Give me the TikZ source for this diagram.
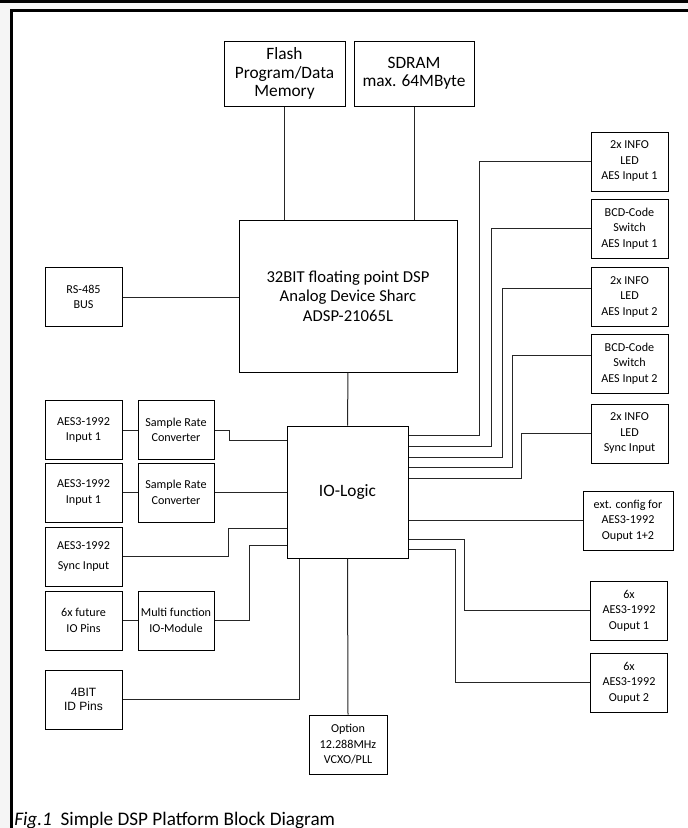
\documentclass[tikz,border=0pt]{standalone}
\usepackage{fontspec}
\setmainfont{Carlito}
\newfontfamily\arialfont{Liberation Sans}

\begin{document}
\begin{tikzpicture}[x=0.75pt,y=-0.75pt,
    blk/.style={draw,line width=0.75pt,inner sep=0pt,align=center,
      minimum width=57.75pt,minimum height=44.25pt,
      font=\fontsize{9.1}{11.6}\selectfont},
    large/.style={blk,font=\fontsize{13}{13.9}\selectfont},
    wire/.style={line width=0.75pt,black!85}]
      % page and frame
      \useasboundingbox (0,0) rectangle (688,828);
      \fill[black!4] (0,0) rectangle (688,828);
      \fill[black] (0,0) rectangle (688,2.5);
      \fill[white] (10,9) rectangle (688,828);
      \draw[line width=2.25pt] (11.5,828) -- (11.5,10.5) -- (688,10.5);

      \node[large,minimum width=90.75pt,minimum height=48.75pt] (flash) at (284.5,73.5) {Flash\\Program/Data\\Memory};
      \node[large,minimum width=90pt,minimum height=48.75pt] (sdram) at (414,73.5) {SDRAM\\max. 64MByte};
      \node[large,minimum width=163.5pt,minimum height=114pt,
        font=\fontsize{12.5}{14.6}\selectfont] (dsp) at (348,296) {32BIT floating point DSP\\Analog Device Sharc\\ADSP-21065L};
      \node[blk] (rs) at (83.5,297) {RS-485\\BUS};
      \node[large,minimum width=90.75pt,minimum height=99pt] (io) at (347.5,492) {IO-Logic};

      \node[blk] (aes1) at (83.5,430) {AES3-1992\\Input 1};
      \node[blk,minimum width=57pt] (src1) at (176,430) {Sample Rate\\Converter};
      \node[blk] (aes2) at (83.5,492.5) {AES3-1992\\Input 1};
      \node[blk,minimum width=57pt] (src2) at (176,492.5) {Sample Rate\\Converter};
      \node[blk] (sync) at (83.5,556.5) {AES3-1992\\[3.5pt]Sync Input};
      \node[blk] (fut) at (83.5,620.5) {6x future\\IO Pins};
      \node[blk,minimum width=57pt] (multi) at (176,620.5) {Multi function\\IO-Module};
      \node[blk,font=\arialfont\fontsize{9}{10.75}\selectfont] (idpins) at (83.5,699.5) {4BIT\\ID Pins};
      \node[blk,minimum width=58.5pt] (vcxo) at (348,744.5) {Option\\12.288MHz\\VCXO/PLL};

      \node[blk] (led1) at (629.5,161.5) {2x INFO\\LED\\AES Input 1};
      \node[blk] (bcd1) at (629.5,228.5) {BCD-Code\\Switch\\AES Input 1};
      \node[blk] (led2) at (629.5,297) {2x INFO\\LED\\AES Input 2};
      \node[blk] (bcd2) at (629.5,363.5) {BCD-Code\\Switch\\AES Input 2};
      \node[blk] (ledsync) at (629.5,433.5) {2x INFO\\LED\\Sync Input};
      \node[blk,minimum width=67.5pt] (extcfg) at (628,520.5) {ext. config for\\AES3-1992\\Ouput 1+2};
      \node[blk] (out1) at (629,610.5) {6x\\AES3-1992\\Ouput 1};
      \node[blk] (out2) at (629,682.5) {6x\\AES3-1992\\Ouput 2};

      % connections
      \draw[wire] (flash.south) -- (flash.south |- dsp.north);
      \draw[wire] (sdram.south) -- (sdram.south |- dsp.north);
      \draw[wire] (rs.east) -- (rs.east -| dsp.west);
      \draw[wire] (dsp.south) -- (io.north);

      \draw[wire] (aes1.east) -- (src1.west);
      \draw[wire] (src1.east) -| (229,440) -- (io.west |- 0,440);
      \draw[wire] (aes2.east) -- (src2.west);
      \draw[wire] (src2.east) -- (src2.east -| io.west);
      \draw[wire] (sync.east) -| (228,528) -- (io.west |- 0,528);
      \draw[wire] (fut.east) -- (multi.west);
      \draw[wire] (multi.east) -| (249,545) -- (io.west |- 0,545);
      \draw[wire] (idpins.east) -| (io.south -| 299,0);
      \draw[wire] (vcxo.north) -- (io.south);

      \draw[wire] (led1.west) -| (479,435) -- (io.east |- 0,435);
      \draw[wire] (bcd1.west) -| (491,446) -- (io.east |- 0,446);
      \draw[wire] (led2.west |- 0,288) -| (502,457) -- (io.east |- 0,457);
      \draw[wire] (bcd2.west |- 0,355) -| (512,467) -- (io.east |- 0,467);
      \draw[wire] (ledsync.west) -| (521,478) -- (io.east |- 0,478);
      \draw[wire] (io.east |- extcfg.west) -- (extcfg.west);
      \draw[wire] (out1.west) -| (464,539) -- (io.east |- 0,539);
      \draw[wire] (out2.west) -| (455,549) -- (io.east |- 0,549);

      \node[anchor=base west,inner sep=0pt,font=\fontsize{14.4}{16}\selectfont] (caption) at (14,825)
        {\textit{Fig.1}\ \ Simple DSP Platform Block Diagram};
    \end{tikzpicture}
\end{document}
